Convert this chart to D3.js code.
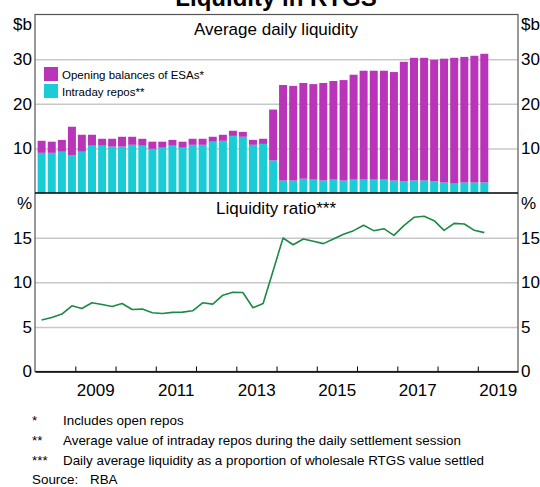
<!DOCTYPE html>
<html>
<head>
<meta charset="utf-8">
<script src="https://cdn.jsdelivr.net/npm/d3@7"></script>
<style>
  body { margin: 0; background: #fff; }
  svg { display: block; font-family: Arial, "Liberation Sans", sans-serif; }
  .grid line { stroke: #c8c8c8; stroke-width: 1.5; }
  .grid path { display: none; }
  .lbl text { font-size: 17px; fill: #000; }
  .lbl path, .lbl line { display: none; }
</style>
</head>
<body>
<svg id="chart" width="540" height="487"></svg>
<script>
// quarter dates (end-of-quarter month)
var quarters = [
  '2008-03','2008-06','2008-09','2008-12','2009-03','2009-06','2009-09','2009-12',
  '2010-03','2010-06','2010-09','2010-12','2011-03','2011-06','2011-09','2011-12',
  '2012-03','2012-06','2012-09','2012-12','2013-03','2013-06','2013-09','2013-12',
  '2014-03','2014-06','2014-09','2014-12','2015-03','2015-06','2015-09','2015-12',
  '2016-03','2016-06','2016-09','2016-12','2017-03','2017-06','2017-09','2017-12',
  '2018-03','2018-06','2018-09','2018-12','2019-03'
];

// $b
var intradayRepos = [
  9.0, 9.0, 9.25, 8.4, 9.25, 10.6, 10.6, 10.4, 10.4, 10.8, 10.6, 9.9, 10.15, 10.6, 10.15, 10.8,
  10.8, 11.5, 11.7, 12.8, 12.6, 10.8, 11.0, 7.3, 2.8, 2.8, 3.2, 3.0, 2.8, 3.0, 2.8, 3.0,
  3.0, 3.0, 3.0, 2.8, 2.6, 2.8, 2.8, 2.6, 2.35, 2.1, 2.35, 2.35, 2.35
];
var openingBalances = [
  2.7, 2.5, 2.65, 6.45, 3.8, 2.45, 1.55, 1.75, 2.2, 1.8, 1.55, 1.6, 1.35, 1.3, 1.35, 1.35,
  1.35, 1.1, 1.35, 1.15, 1.1, 1.1, 1.15, 11.4, 21.4, 21.2, 21.45, 21.4, 21.85, 22.1, 22.5, 23.5,
  24.4, 24.4, 24.4, 24.3, 26.8, 27.5, 27.5, 27.25, 27.75, 28.2, 28.15, 28.4, 28.85
];

// %
var liquidityRatio = [
  5.76, 6.06, 6.43, 7.36, 7.06, 7.7, 7.5, 7.29, 7.62, 6.95, 6.99, 6.58, 6.5, 6.62, 6.65, 6.8,
  7.7, 7.55, 8.55, 8.88, 8.85, 7.14, 7.62, 11.3, 14.96, 14.2, 14.85, 14.6, 14.33, 14.85, 15.37, 15.78,
  16.38, 15.78, 16.0, 15.26, 16.34, 17.28, 17.39, 16.9, 15.82, 16.6, 16.53, 15.82, 15.56
];

var topTicks = [10, 20, 30];
var botTicks = [0, 5, 10, 15];
var yearTicks = ['2009','2010','2011','2012','2013','2014','2015','2016','2017','2018','2019'];
var yearLabels = ['2009','2011','2013','2015','2017','2019'];

var notes = [
  ['*', 'Includes open repos'],
  ['**', 'Average value of intraday repos during the daily settlement session'],
  ['***', 'Daily average liquidity as a proportion of wholesale RTGS value settled']
];

var purple = '#b934b9',
    cyan = '#19ccd5',
    green = '#1a8a45';

var svg = d3.select('#chart'),
    pLeft = 35, pRight = 518, pTop = 14.5, pMid = 193, pBottom = 371.5;

var parseQ = d3.timeParse('%Y-%m'),
    parseY = d3.timeParse('%Y');

var x = d3.scaleTime()
    .domain([new Date(2008, 0, 1), new Date(2020, 0, 1)])
    .range([pLeft, pRight]);

var yTop = d3.scaleLinear().domain([0, 40]).range([pMid, pTop]);
var yBot = d3.scaleLinear().domain([0, 20]).range([pBottom, pMid]);

// gridlines
svg.append('g')
    .attr('class', 'grid')
    .attr('transform', 'translate(' + pLeft + ',0)')
    .call(d3.axisRight(yTop).tickValues(topTicks).tickSize(pRight - pLeft).tickFormat(''));
svg.append('g')
    .attr('class', 'grid')
    .attr('transform', 'translate(' + pLeft + ',0)')
    .call(d3.axisRight(yBot).tickValues([5, 10, 15]).tickSize(pRight - pLeft).tickFormat(''));

// stacked bars
var rows = quarters.map(function(q, i) {
  return { date: parseQ(q), repos: intradayRepos[i], esa: openingBalances[i] };
});
var series = d3.stack().keys(['repos', 'esa'])(rows);
var colours = { repos: cyan, esa: purple };
var barW = 8;

svg.append('g')
  .selectAll('g')
  .data(series)
  .join('g')
    .attr('fill', function(d) { return colours[d.key]; })
  .selectAll('rect')
  .data(function(d) { return d; })
  .join('rect')
    .attr('x', function(d) { return x(d.data.date) - barW / 2; })
    .attr('y', function(d) { return yTop(d[1]); })
    .attr('width', barW)
    .attr('height', function(d) { return yTop(d[0]) - yTop(d[1]); });

// ratio line
var line = d3.line()
    .x(function(d, i) { return x(parseQ(quarters[i])); })
    .y(function(d) { return yBot(d); });

svg.append('path')
    .attr('d', line(liquidityRatio))
    .attr('fill', 'none')
    .attr('stroke', green)
    .attr('stroke-width', 1.6)
    .attr('stroke-linejoin', 'round');

// frame
svg.append('rect')
    .attr('x', pLeft).attr('y', pTop)
    .attr('width', pRight - pLeft).attr('height', pBottom - pTop)
    .attr('fill', 'none').attr('stroke', '#555').attr('stroke-width', 1.2);
svg.append('line')
    .attr('x1', pLeft).attr('x2', pRight).attr('y1', pMid).attr('y2', pMid)
    .attr('stroke', '#000').attr('stroke-width', 1.6);

// x axis: year ticks pointing up, labels mid-year
var xAxis = svg.append('g')
    .attr('transform', 'translate(0,' + pBottom + ')')
    .call(d3.axisBottom(x).tickValues(yearTicks.map(parseY)).tickSizeInner(-5).tickSizeOuter(0).tickFormat(''));
xAxis.select('.domain').attr('stroke', '#000').attr('stroke-width', 1.6);
xAxis.selectAll('.tick line').attr('stroke', '#000');

svg.append('g')
    .attr('class', 'lbl')
    .attr('transform', 'translate(0,' + (pBottom + 4) + ')')
    .call(d3.axisBottom(x)
      .tickValues(yearLabels.map(function(y) { return new Date(+y, 6, 1); }))
      .tickSize(0)
      .tickFormat(d3.timeFormat('%Y')))
    .selectAll('text').attr('dy', '1em');

// y labels on both sides
function yLabels(scale, ticks, side) {
  var axis = side === 'left' ? d3.axisLeft(scale) : d3.axisRight(scale);
  svg.append('g')
      .attr('class', 'lbl')
      .attr('transform', 'translate(' + (side === 'left' ? pLeft - 3 : pRight + 3) + ',0)')
      .call(axis.tickValues(ticks).tickSize(0).tickPadding(0));
}
yLabels(yTop, topTicks, 'left');
yLabels(yTop, topTicks, 'right');
yLabels(yBot, botTicks, 'left');
yLabels(yBot, botTicks, 'right');

// units
[['$b', 30], ['%', 209]].forEach(function(u) {
  svg.append('text').attr('x', pLeft - 3).attr('y', u[1]).attr('text-anchor', 'end')
      .attr('font-size', 17).text(u[0]);
  svg.append('text').attr('x', pRight + 3).attr('y', u[1])
      .attr('font-size', 17).text(u[0]);
});

// titles
svg.append('text')
    .attr('x', 276).attr('y', 6)
    .attr('text-anchor', 'middle')
    .attr('font-size', 24).attr('font-weight', 'bold')
    .text('Liquidity in RTGS');
svg.append('text')
    .attr('x', 276).attr('y', 35)
    .attr('text-anchor', 'middle')
    .attr('font-size', 17)
    .text('Average daily liquidity');
svg.append('text')
    .attr('x', 276).attr('y', 214)
    .attr('text-anchor', 'middle')
    .attr('font-size', 17)
    .text('Liquidity ratio***');

// legend
var legend = svg.append('g').attr('transform', 'translate(44,67)');
[[purple, 'Opening balances of ESAs*'], [cyan, 'Intraday repos**']].forEach(function(l, i) {
  legend.append('rect').attr('x', 0).attr('y', i * 17).attr('width', 14).attr('height', 14).attr('fill', l[0]);
  legend.append('text').attr('x', 18).attr('y', i * 17 + 11.5).attr('font-size', 11.5).text(l[1]);
});

// notes
notes.forEach(function(n, i) {
  var yy = 425 + i * 20;
  svg.append('text').attr('x', 32).attr('y', yy).attr('font-size', 13.4).text(n[0]);
  svg.append('text').attr('x', 63).attr('y', yy).attr('font-size', 13.4).text(n[1]);
});
svg.append('text').attr('x', 32).attr('y', 484).attr('font-size', 13.4).text('Source:');
svg.append('text').attr('x', 90).attr('y', 484).attr('font-size', 13.4).text('RBA');
</script>
</body>
</html>
